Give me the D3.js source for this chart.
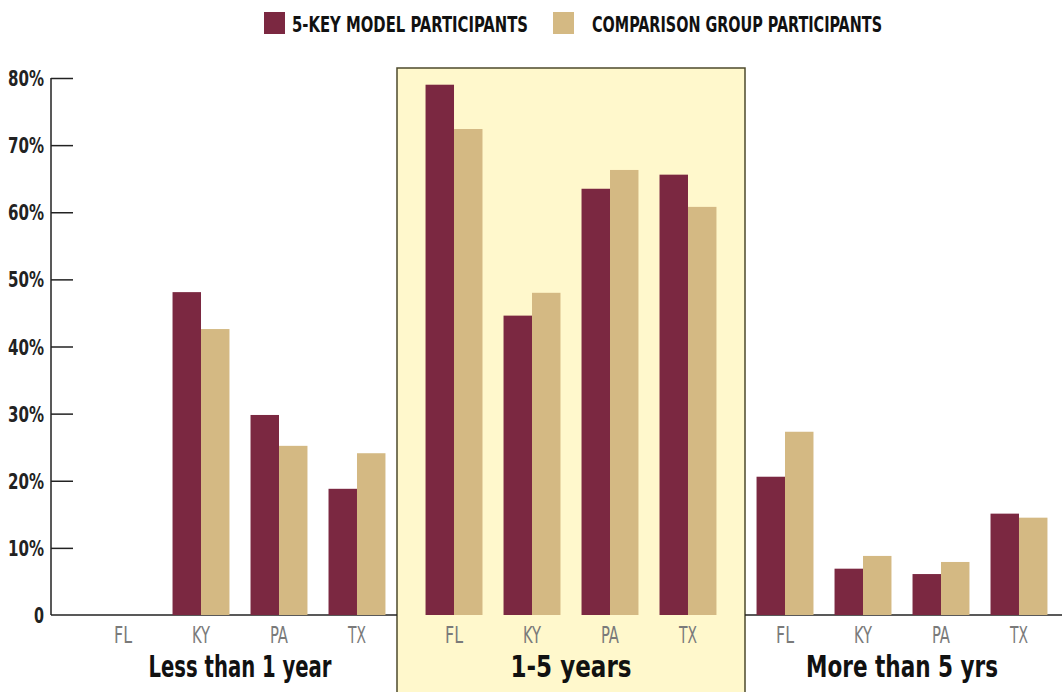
<!DOCTYPE html>
<html><head><meta charset="utf-8">
<script src="https://cdn.jsdelivr.net/npm/d3@7"></script>
<style>
body{margin:0;background:#fff;}
svg{display:block;}
text{font-family:"DejaVu Sans Condensed","Liberation Sans Narrow",sans-serif;}
</style></head><body>
<svg id="c" width="1062" height="692"></svg>
<script>
const groups = ["Less than 1 year", "1-5 years", "More than 5 yrs"];
const states = ["FL", "KY", "PA", "TX"];
const seriesNames = ["5-KEY MODEL PARTICIPANTS", "COMPARISON GROUP PARTICIPANTS"];
const seriesColors = ["#7b2841", "#d4b983"];
// values per group, per state
const modelValues = [
  [null, 48.1, 29.8, 18.8],
  [79.0, 44.6, 63.5, 65.6],
  [20.6, 6.9, 6.1, 15.1]
];
const comparisonValues = [
  [null, 42.6, 25.2, 24.1],
  [72.4, 48.0, 66.3, 60.8],
  [27.3, 8.8, 7.9, 14.5]
];
const yTicks = [0, 10, 20, 30, 40, 50, 60, 70, 80];
const yTickLabels = ["0", "10%", "20%", "30%", "40%", "50%", "60%", "70%", "80%"];

const svg = d3.select("#c");
const y = d3.scaleLinear().domain([0, 80]).range([615, 78]);
const x0 = d3.scaleBand().domain(groups).range([74.5, 1067.5]);
const x1 = d3.scaleBand().domain(states).range([0, x0.bandwidth()]).paddingInner(0.27).paddingOuter(0.257);
const x2 = d3.scaleBand().domain([0, 1]).range([0, x1.bandwidth()]);

// highlight box for middle group
const gMid = x0(groups[1]) + x0.bandwidth() / 2;
svg.append("rect").attr("x", gMid - 174).attr("y", 68).attr("width", 348).attr("height", 640)
  .attr("fill", "#fff8cc").attr("stroke", "#4d4a2c").attr("stroke-width", 1.5);

// baseline segments outside box
svg.append("line").attr("x1", 51).attr("x2", gMid - 174).attr("y1", y(0)).attr("y2", y(0)).attr("stroke", "#222").attr("stroke-width", 1.5);
svg.append("line").attr("x1", gMid + 174).attr("x2", 1062).attr("y1", y(0)).attr("y2", y(0)).attr("stroke", "#222").attr("stroke-width", 1.5);

// y axis
const yAxis = d3.axisRight(y).tickValues(yTicks).tickSize(22).tickFormat("");
const ga = svg.append("g").attr("transform", "translate(51,0)").call(yAxis);
ga.select(".domain").attr("d", `M0,${y(80)}V${y(0)}`).attr("stroke", "#222").attr("stroke-width", 1.5);
ga.selectAll(".tick line").attr("stroke", "#222").attr("stroke-width", 1.5);
ga.selectAll(".tick").filter(d => d === 0).select("line").remove();
svg.selectAll(".ylab").data(yTicks).enter().append("text")
  .attr("x", 44).attr("y", d => y(d) + 8).attr("text-anchor", "end")
  .attr("font-size", 22).attr("font-weight", "bold").attr("fill", "#222")
  .attr("textLength", d => d === 0 ? 10 : 36).attr("lengthAdjust", "spacingAndGlyphs")
  .text((d, i) => yTickLabels[i]);

// bars
const groupLabelWidths = [183, 121, 192];
const allVals = [modelValues, comparisonValues];
groups.forEach((g, gi) => {
  const gg = svg.append("g").attr("transform", `translate(${x0(g)},0)`);
  states.forEach((s, si) => {
    [0, 1].forEach(k => {
      const v = allVals[k][gi][si];
      if (v == null) return;
      gg.append("rect").attr("x", x1(s) + x2(k)).attr("width", x2.bandwidth())
        .attr("y", y(v)).attr("height", y(0) - y(v)).attr("fill", seriesColors[k]);
    });
    gg.append("text").attr("x", x1(s) + x1.bandwidth() / 2).attr("y", 643)
      .attr("text-anchor", "middle").attr("font-size", 23).attr("fill", "#7a7a7a")
      .attr("textLength", 18).attr("lengthAdjust", "spacingAndGlyphs").text(s);
  });
  gg.append("text").attr("x", x0.bandwidth() / 2).attr("y", 677).attr("text-anchor", "middle")
    .attr("font-size", 31).attr("font-weight", 600).attr("fill", "#111")
    .attr("textLength", groupLabelWidths[gi]).attr("lengthAdjust", "spacingAndGlyphs").text(g);
});

// legend
const legend = [{x: 264, tx: 292, w: 236}, {x: 553, tx: 592, w: 290}];
legend.forEach((l, i) => {
  svg.append("rect").attr("x", l.x).attr("y", 12).attr("width", 21).attr("height", 22).attr("fill", seriesColors[i]);
  svg.append("text").attr("x", l.tx).attr("y", 32).attr("font-size", 22).attr("font-weight", 600).attr("fill", "#111")
    .attr("textLength", l.w).attr("lengthAdjust", "spacingAndGlyphs").text(seriesNames[i]);
});
</script></body></html>
